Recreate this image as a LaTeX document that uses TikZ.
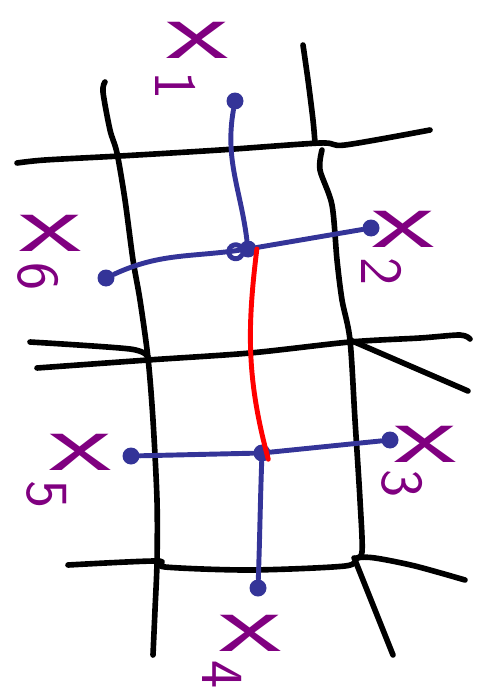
\documentclass[tikz,border=0pt]{standalone}
\usepackage{graphicx}
\usepackage{tikz}
\usetikzlibrary{positioning}
\definecolor{PenBlue}{RGB}{52,52,152}
\definecolor{PenRed}{RGB}{255,0,0}
\definecolor{PenPurple}{RGB}{128,0,128}
\tikzset{
  gridline/.style={line width=3.2pt,line cap=round,line join=round,draw=black},
  link/.style={line width=2.8pt,line cap=round,draw=PenBlue},
  cutlink/.style={line width=2.8pt,line cap=round,draw=PenRed},
  pendot/.style={circle,fill=PenBlue,inner sep=0pt,minimum size=0.34cm},
  varx/.style={text=PenPurple,font=\fontsize{48}{50}\selectfont\sffamily,inner sep=0pt},
  varidx/.style={text=PenPurple,font=\fontsize{34}{36}\selectfont\sffamily,inner sep=0pt,rotate=-90}
}

\begin{document}
\begin{tikzpicture}[x=0.02cm,y=-0.02cm]
\useasboundingbox (0,0) rectangle (483,696);

% hand-drawn grid
\draw[gridline] plot[smooth] coordinates {(17,163) (45,160) (120,156) (220,150) (320,143) (345,145) (430,130)};
\draw[gridline] plot[smooth] coordinates {(30,342) (130,349) (148,357)};
\draw[gridline] plot[smooth] coordinates {(37,368) (148,360) (250,353) (350,342) (420,338) (460,335) (470,339)};
\draw[gridline] (350,340) -- (468,391);
\draw[gridline] plot[smooth] coordinates {(68,565) (157,561) (165,567) (250,570) (345,566) (357,558) (375,558) (415,566) (465,580)};
\draw[gridline] (355,560) -- (393,655);
\draw[gridline] plot[smooth] coordinates {(105,82) (103,92) (110,130) (117,153) (125,200) (133,260) (140,300) (148,358) (153,420) (157,500) (157,562) (155,610) (153,655)};
\draw[gridline] plot[smooth] coordinates {(303,45) (308,80) (313,120) (315,143)};
\draw[gridline] plot[smooth] coordinates {(322,150) (320,170) (332,205) (337,260) (342,300) (350,340) (355,420) (360,500) (362,552) (354,558)};

% variable ends and junctions
\node[pendot] (e1) at (235,101) {};
\node[pendot] (e2) at (371,228) {};
\node[pendot] (e6) at (106,278) {};
\node[pendot] (e5) at (131,456) {};
\node[pendot] (e3) at (390,440) {};
\node[pendot] (e4) at (258,588) {};
\node[pendot] (j1) at (248,249) {};
\node[pendot] (j2) at (262,453) {};

% blue edges
\draw[link] (e1) to[out=-100,in=97] (j1);
\draw[link] (e6) to[out=25,in=188] (j1);
\draw[link] (j1) -- (e2);
\draw[link] (e5) -- (j2);
\draw[link] (j2) -- (e3);
\draw[link] (j2) to[out=-92,in=88] (e4);
\draw[link] (j1.south west) arc (-30:-330:0.14cm);

% red edge between the junctions
\draw[cutlink] (j1.east) to[out=-97,in=105] (j2.south east);

% labels
\node[varx] (x1) at (197,40) {\scalebox{1.7}[1]{x}};
\node[varidx] (i1) at (176,86) {1};
\node[varx] (x2) at (403,229) {\scalebox{1.7}[1]{x}};
\node[varidx] (i2) at (382,272) {2};
\node[varx] (x6) at (50,233) {\scalebox{1.7}[1]{x}};
\node[varidx] (i6) at (38,277) {6};
\node[varx] (x5) at (80,452) {\scalebox{1.7}[1]{x}};
\node[varidx] (i5) at (47,495) {5};
\node[varx] (x3) at (425,444) {\scalebox{1.7}[1]{x}};
\node[varidx] (i3) at (402,484) {3};
\node[varx] (x4) at (250,633) {\scalebox{1.7}[1]{x}};
\node[varidx] (i4) at (222,675) {4};
\end{tikzpicture}
\end{document}
